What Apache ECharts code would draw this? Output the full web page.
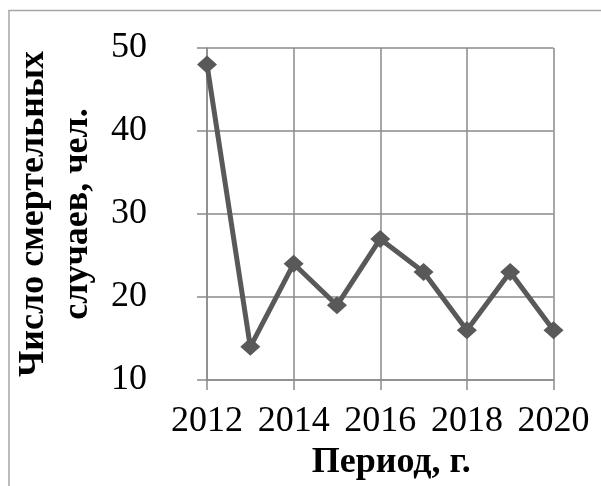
<!DOCTYPE html>
<html>
<head>
<meta charset="utf-8">
<script src="https://cdn.jsdelivr.net/npm/echarts@6/dist/echarts.min.js"></script>
<style>
html,body{margin:0;padding:0;background:#fff;}
#c{width:601px;height:486px;}
</style>
</head>
<body>
<div id="c"></div>
<script>
var categories = ['2012','2013','2014','2015','2016','2017','2018','2019','2020'];
var deaths = [48, 14, 24, 19, 27, 23, 16, 23, 16];
var yTicks = [10, 20, 30, 40, 50];
var xTitle = 'Период, г.';
var yTitle = 'Число смертельных\nслучаев, чел.';

var FONT = '"Liberation Serif", "Times New Roman", serif';
var GRID = '#8a8a8a';
var chart = echarts.init(document.getElementById('c'), null, {renderer: 'canvas'});
chart.setOption({
  animation: false,
  backgroundColor: '#ffffff',
  graphic: [{
    type: 'rect',
    shape: {x: 9, y: 10.5, width: 800, height: 800},
    style: {fill: 'none', stroke: '#a6a6a6', lineWidth: 1.5},
    silent: true
  }],
  grid: {left: 207, right: 47.5, top: 48, bottom: 105, containLabel: false},
  xAxis: {
    type: 'category',
    data: categories,
    boundaryGap: false,
    name: xTitle,
    nameLocation: 'middle',
    nameGap: 65,
    nameTextStyle: {fontFamily: FONT, fontSize: 36, fontWeight: 'bold', color: '#000', padding: [0, 0, 0, 22]},
    axisLine: {show: true, lineStyle: {color: GRID, width: 1.5}},
    axisTick: {show: true, interval: 1, length: 10, lineStyle: {color: GRID, width: 1.5}},
    axisLabel: {interval: 1, margin: 24, fontFamily: FONT, fontSize: 36, color: '#000'},
    splitLine: {show: true, interval: 1, lineStyle: {color: GRID, width: 1.5}}
  },
  yAxis: {
    type: 'value',
    min: yTicks[0],
    max: yTicks[yTicks.length - 1],
    interval: 10,
    name: yTitle,
    nameLocation: 'middle',
    nameGap: 107,
    nameTextStyle: {fontFamily: FONT, fontSize: 36, fontWeight: 'bold', color: '#000', lineHeight: 44, padding: [0, 0, 0, 0]},
    axisLine: {show: true, lineStyle: {color: GRID, width: 1.5}},
    axisTick: {show: true, length: 10, lineStyle: {color: GRID, width: 1.5}},
    axisLabel: {margin: 60, fontFamily: FONT, fontSize: 36, color: '#000'},
    splitLine: {show: true, lineStyle: {color: GRID, width: 1.5}}
  },
  series: [{
    type: 'line',
    data: deaths,
    symbol: 'diamond',
    symbolSize: [20, 18],
    lineStyle: {color: '#595959', width: 5},
    itemStyle: {color: '#595959'}
  }]
});
</script>
</body>
</html>
